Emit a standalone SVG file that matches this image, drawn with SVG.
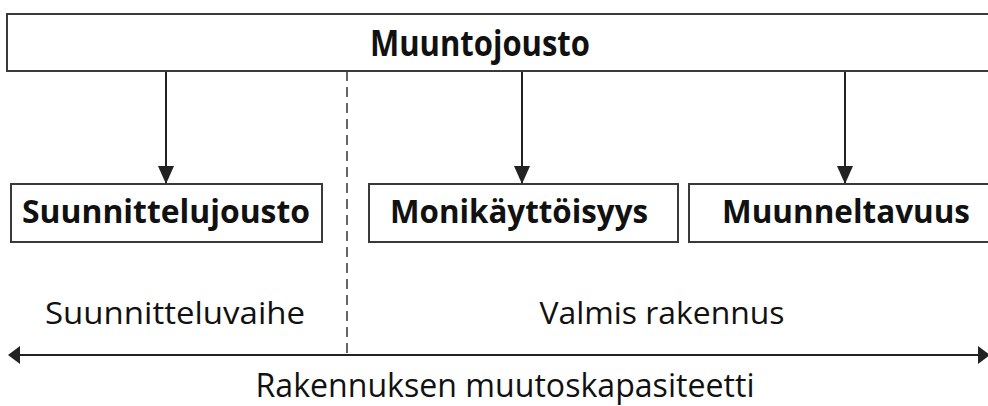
<svg xmlns="http://www.w3.org/2000/svg" width="988" height="406" viewBox="0 0 988 406">
<defs>
<style>
.box{fill:#fff;stroke:#3a3a3a;stroke-width:2}
.b{font-family:"Open Sans","Liberation Sans",sans-serif;font-weight:bold;fill:#111;text-anchor:middle}
.r{font-family:"Open Sans","Liberation Sans",sans-serif;fill:#111;text-anchor:middle}
.ln{stroke:#222;stroke-width:2;fill:none}
</style>
<marker id="ah2" viewBox="0 0 10 10" refX="10" refY="5" markerWidth="18" markerHeight="16" markerUnits="userSpaceOnUse" orient="auto" preserveAspectRatio="none"><path d="M0,0 L10,5 L0,10 Z" fill="#222"/></marker>
</defs>
<rect width="988" height="406" fill="#fff"/>
<g id="connectors">
<line class="ln" x1="166" y1="71" x2="166" y2="184" marker-end="url(#ah2)"/>
<line class="ln" x1="522" y1="71" x2="522" y2="184" marker-end="url(#ah2)"/>
<line class="ln" x1="845" y1="71" x2="845" y2="184" marker-end="url(#ah2)"/>
<line x1="347" y1="71" x2="347" y2="355" stroke="#333" stroke-width="1.5" stroke-dasharray="10,6"/>
<line class="ln" x1="12" y1="355" x2="986" y2="355"/>
<path d="M8,355 L20,346 L20,364 Z" fill="#222"/>
<path d="M990,355 L978,346 L978,364 Z" fill="#222"/>
</g>
<g id="muuntojousto">
<rect class="box" x="7" y="14" width="990" height="57"/>
<text class="b" x="480" y="56" font-size="35" textLength="220" lengthAdjust="spacingAndGlyphs">Muuntojousto</text>
</g>
<g id="suunnittelujousto">
<rect class="box" x="11" y="184" width="311" height="58"/>
<text class="b" x="166" y="223" font-size="32" textLength="288" lengthAdjust="spacingAndGlyphs">Suunnittelujousto</text>
</g>
<g id="monikayttoisyys">
<rect class="box" x="369" y="184" width="309" height="58"/>
<text class="b" x="519" y="223" font-size="32" textLength="258" lengthAdjust="spacingAndGlyphs">Monikäyttöisyys</text>
</g>
<g id="muunneltavuus">
<rect class="box" x="689" y="184" width="310" height="58"/>
<text class="b" x="846" y="223" font-size="32" textLength="248" lengthAdjust="spacingAndGlyphs">Muunneltavuus</text>
</g>
<g id="labels">
<text class="r" x="175" y="324" font-size="31" textLength="260" lengthAdjust="spacingAndGlyphs">Suunnitteluvaihe</text>
<text class="r" x="662" y="324" font-size="31" textLength="245" lengthAdjust="spacingAndGlyphs">Valmis rakennus</text>
<text class="r" x="505" y="397" font-size="32" textLength="499" lengthAdjust="spacingAndGlyphs">Rakennuksen muutoskapasiteetti</text>
</g>
</svg>
